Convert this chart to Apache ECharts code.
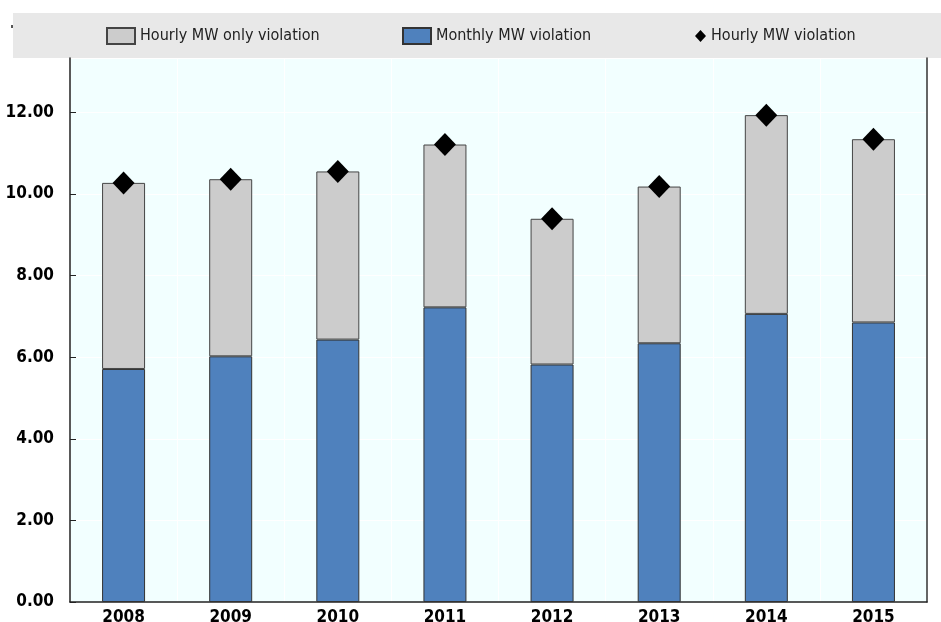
<!DOCTYPE html>
<html>
<head>
<meta charset="utf-8">
<script src="https://cdn.jsdelivr.net/npm/echarts@6/dist/echarts.min.js"></script>
<style>
  html, body { margin: 0; padding: 0; background: #fff; }
  #chart { width: 941px; height: 622px; }
</style>
</head>
<body>
<div id="chart"></div>
<script>
// 数据
const years = ['2008', '2009', '2010', '2011', '2012', '2013', '2014', '2015']
const monthlyViolation = [5.71, 6.02, 6.43, 7.22, 5.82, 6.34, 7.06, 6.85]
const hourlyOnlyViolation = [4.56, 4.34, 4.12, 3.99, 3.57, 3.84, 4.87, 4.49]
const hourlyViolation = [10.27, 10.36, 10.55, 11.21, 9.39, 10.18, 11.93, 11.34]

const narrow = "'Liberation Sans Narrow', 'Arial Narrow', 'DejaVu Sans Condensed', sans-serif"

const chart = echarts.init(document.getElementById('chart'))

const legendBase = {
  top: 27,
  padding: 0,
  itemWidth: 28,
  itemHeight: 16,
  icon: 'rect',
  textStyle: { fontFamily: narrow, fontSize: 16, color: '#222' }
}

const option = {
  backgroundColor: '#fff',
  animation: false,
  graphic: [
    {
      type: 'rect',
      left: 13,
      top: 13,
      z: -10,
      shape: { width: 928, height: 45 },
      style: { fill: '#E8E8E8' }
    },
    {
      type: 'rect',
      left: 11,
      top: 25,
      shape: { width: 2, height: 3 },
      style: { fill: '#555' }
    }
  ],
  legend: [
    Object.assign({}, legendBase, { left: 106, data: ['Hourly MW only violation'] }),
    Object.assign({}, legendBase, { left: 402, data: ['Monthly MW violation'] }),
    Object.assign({}, legendBase, {
      left: 695,
      top: 28,
      itemWidth: 11,
      itemHeight: 12,
      icon: 'diamond',
      data: ['Hourly MW violation']
    })
  ],
  grid: {
    left: 70,
    right: 14,
    top: 58,
    bottom: 20,
    outerBoundsMode: 'none',
    show: true,
    backgroundColor: '#F2FFFF',
    borderWidth: 0
  },
  xAxis: {
    type: 'category',
    data: years,
    axisLine: { lineStyle: { color: '#222', width: 1.5 } },
    axisTick: { inside: true, length: 7, lineStyle: { color: '#222' } },
    splitLine: { show: true, lineStyle: { color: '#ffffff', width: 1 } },
    axisLabel: {
      margin: 7,
      fontFamily: narrow,
      fontWeight: 'bold',
      fontSize: 17,
      color: '#000'
    }
  },
  yAxis: [
    {
      type: 'value',
      min: 0,
      max: 13.33,
      interval: 2,
      axisLine: { show: true, lineStyle: { color: '#222', width: 1.5 } },
      axisTick: { show: true, inside: true, length: 6, lineStyle: { color: '#222' } },
      splitLine: { show: true, lineStyle: { color: '#ffffff', width: 1 } },
      axisLabel: {
        showMaxLabel: false,
        margin: 16,
        fontFamily: narrow,
        fontWeight: 'bold',
        fontSize: 17,
        color: '#000',
        formatter: (v) => v.toFixed(2)
      }
    },
    {
      type: 'value',
      position: 'right',
      min: 0,
      max: 13.33,
      interval: 2,
      axisLine: { show: true, lineStyle: { color: '#333', width: 1.5 } },
      axisTick: { show: false },
      axisLabel: { show: false },
      splitLine: { show: false }
    }
  ],
  series: [
    {
      name: 'Monthly MW violation',
      type: 'bar',
      stack: 'total',
      barWidth: 43,
      data: monthlyViolation,
      itemStyle: { color: '#4F81BD', borderColor: '#333', borderWidth: 1 }
    },
    {
      name: 'Hourly MW only violation',
      type: 'bar',
      stack: 'total',
      barWidth: 43,
      data: hourlyOnlyViolation,
      itemStyle: { color: '#CCCCCC', borderColor: '#444', borderWidth: 1 }
    },
    {
      name: 'Hourly MW violation',
      type: 'scatter',
      symbol: 'diamond',
      symbolSize: [22, 23],
      data: hourlyViolation,
      itemStyle: { color: '#000', opacity: 1 },
      z: 5
    }
  ]
}

chart.setOption(option)
</script>
</body>
</html>
